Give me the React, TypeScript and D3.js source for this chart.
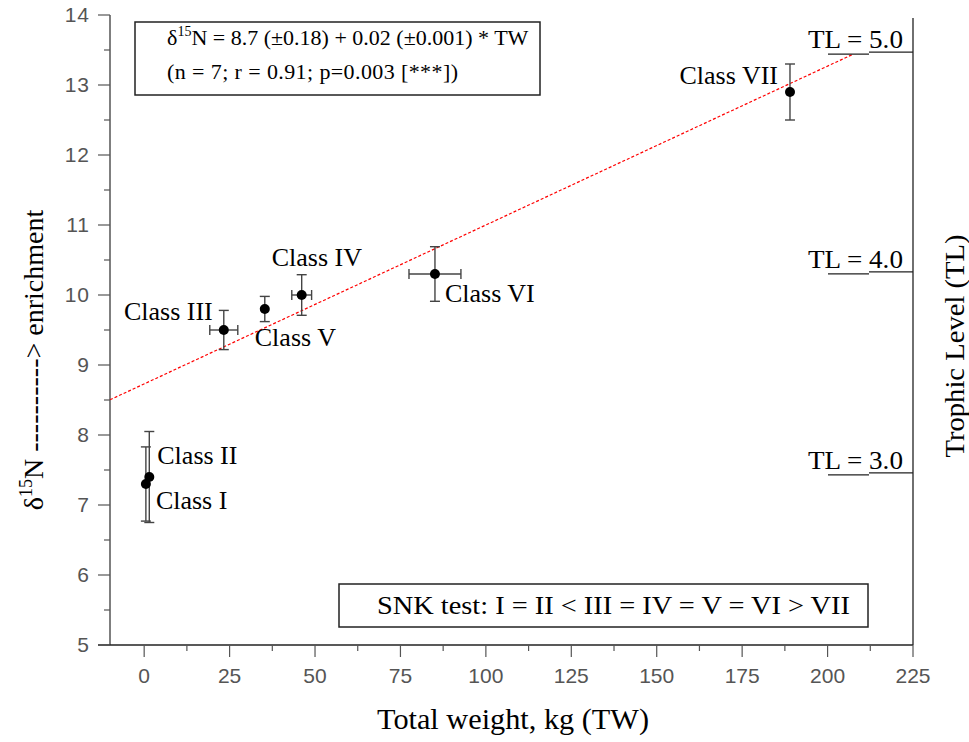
import React from 'react';
import * as d3 from 'd3';

// ---- data ----
const classNames = ['Class I', 'Class II', 'Class III', 'Class IV', 'Class V', 'Class VI', 'Class VII'];
const totalWeight = [0.5, 1.5, 23.3, 46.1, 35.3, 85.1, 189];
const delta15N = [7.3, 7.4, 9.5, 10.0, 9.8, 10.3, 12.9];
const deltaSD = [0.53, 0.65, 0.28, 0.29, 0.18, 0.39, 0.4];
const weightSD = [0, 0, 4.1, 2.9, 0, 7.6, 0];
const xTicks = [0, 25, 50, 75, 100, 125, 150, 175, 200, 225];
const yTicks = [5, 6, 7, 8, 9, 10, 11, 12, 13, 14];
const trophicLevels = ['3.0', '4.0', '5.0'];
const trophicDelta = [7.46, 10.33, 13.47];
const fitIntercept = 8.73;
const fitSlope = 0.0227;
const fitRange = [-10, 207.5];
const equationLine2 = '(n = 7; r = 0.91; p=0.003 [***])';
const snkText = 'SNK test: I = II < III = IV = V = VI > VII';

// ---- layout (label placement relative to point) ----
const labelDx = [10, 8, -11, -30, -10, 10, -12];
const labelDy = [25, -13, -10, -29, 37, 28, -8];
const labelAnchor = ['start', 'start', 'end', 'start', 'start', 'start', 'end'];

const SERIF = "'Liberation Serif', 'Times New Roman', serif";
const NARROW = "'Liberation Sans Narrow', 'Arial Narrow', 'Liberation Sans', sans-serif";

export default function App() {
  const W = 969, H = 742;
  const x = d3.scaleLinear().domain([-10, 225]).range([110, 913]);
  const y = d3.scaleLinear().domain([5, 14]).range([645, 15]);
  const x0 = x(-10), x1 = x(225), y0 = y(5), yTop = y(14);

  const xMinor = d3.range(12.5, 225, 25);
  const yMinor = d3.range(5.5, 14, 1);

  const fitLine = d3.line<number>().x(d => x(d)).y(d => y(fitIntercept + fitSlope * d));
  const stroke = '#444';

  return (
    <svg width={W} height={H} style={{ position: 'absolute', left: 0, top: 0, background: '#fff' }}>
      <rect x={0} y={0} width={W} height={H} fill="#fff" />
      {/* axes */}
      <line x1={x0} y1={yTop} x2={x0} y2={y0} stroke="#555" strokeWidth={1.5} />
      <line x1={x0 - 12} y1={y0} x2={x1} y2={y0} stroke="#222" strokeWidth={1.5} />
      <line x1={x1} y1={18} x2={x1} y2={y0} stroke="#222" strokeWidth={1.3} />
      {/* y ticks */}
      {yTicks.map(t => (
        <g key={'yt' + t}>
          <line x1={x0 - 12} x2={x0} y1={y(t)} y2={y(t)} stroke="#555" strokeWidth={1.2} />
          <text x={x0 - 20} y={y(t)} dy="0.35em" textAnchor="end" fontFamily={NARROW} fontSize={21} fill="#555" letterSpacing={1}>{t}</text>
        </g>
      ))}
      {yMinor.map(t => (
        <line key={'ym' + t} x1={x0 - 6} x2={x0} y1={y(t)} y2={y(t)} stroke="#555" strokeWidth={1.2} />
      ))}
      {/* x ticks */}
      {xTicks.map(t => (
        <g key={'xt' + t}>
          <line x1={x(t)} x2={x(t)} y1={y0} y2={y0 + 12} stroke="#555" strokeWidth={1.2} />
          <text x={x(t)} y={y0 + 38} textAnchor="middle" fontFamily={NARROW} fontSize={21} fill="#555">{t}</text>
        </g>
      ))}
      {xMinor.map(t => (
        <line key={'xm' + t} x1={x(t)} x2={x(t)} y1={y0} y2={y0 + 6} stroke="#555" strokeWidth={1.2} />
      ))}
      {/* fit line */}
      <path d={fitLine(fitRange) || ''} fill="none" stroke="#ff0000" strokeWidth={1.2} strokeDasharray="3 2" />
      {/* error bars */}
      {classNames.map((c, i) => {
        const px = x(totalWeight[i]), py = y(delta15N[i]);
        const yt = y(delta15N[i] + deltaSD[i]), yb = y(delta15N[i] - deltaSD[i]);
        const xl = x(totalWeight[i] - weightSD[i]), xr = x(totalWeight[i] + weightSD[i]);
        return (
          <g key={'eb' + i} stroke={stroke} strokeWidth={1.4}>
            <line x1={px} x2={px} y1={yt} y2={yb} />
            <line x1={px - 5} x2={px + 5} y1={yt} y2={yt} />
            <line x1={px - 5} x2={px + 5} y1={yb} y2={yb} />
            {weightSD[i] > 0 && (
              <g>
                <line x1={xl} x2={xr} y1={py} y2={py} />
                <line x1={xl} x2={xl} y1={py - 5} y2={py + 5} />
                <line x1={xr} x2={xr} y1={py - 5} y2={py + 5} />
              </g>
            )}
          </g>
        );
      })}
      {classNames.map((c, i) => (
        <circle key={'pt' + i} cx={x(totalWeight[i])} cy={y(delta15N[i])} r={5} fill="#000" />
      ))}
      {classNames.map((c, i) => (
        <text key={'lb' + i} x={x(totalWeight[i]) + labelDx[i]} y={y(delta15N[i]) + labelDy[i]}
          textAnchor={labelAnchor[i] as any} fontFamily={SERIF} fontSize={26} fill="#000">{c}</text>
      ))}
      {/* TL markers */}
      {trophicLevels.map((t, i) => {
        const ty = y(trophicDelta[i]);
        return (
          <g key={'tl' + i}>
            <text x={808} y={ty - 4} fontFamily={SERIF} fontSize={26} fill="#000" textLength={95} lengthAdjust="spacingAndGlyphs">TL = {t}</text>
            <line x1={828} x2={869} y1={ty + 2} y2={ty + 2} stroke="#222" strokeWidth={1.2} />
            <line x1={869} x2={x1} y1={ty} y2={ty} stroke="#222" strokeWidth={1.2} />
          </g>
        );
      })}
      {/* equation box */}
      <rect x={135} y={22} width={405} height={73} fill="#fff" stroke="#222" strokeWidth={1.5} />
      <text x={167} y={45} fontFamily={SERIF} fontSize={22} fill="#000">
        δ<tspan fontSize={14} dy={-9}>15</tspan><tspan dy={9}>N = 8.7 (±0.18) + 0.02 (±0.001) * TW</tspan>
      </text>
      <text x={167} y={79} fontFamily={SERIF} fontSize={22} fill="#000" letterSpacing={0.4}>{equationLine2}</text>
      {/* SNK box */}
      <rect x={339} y={584} width={529} height={43} fill="#fff" stroke="#222" strokeWidth={1.5} />
      <text x={377} y={614} fontFamily={SERIF} fontSize={26} fill="#000" textLength={473} lengthAdjust="spacingAndGlyphs">{snkText}</text>
      {/* axis titles */}
      <text x={377} y={729} fontFamily={SERIF} fontSize={30} fill="#000" textLength={272} lengthAdjust="spacingAndGlyphs">Total weight, kg (TW)</text>
      <text transform="translate(43,360) rotate(-90)" textAnchor="middle" fontFamily={SERIF} fontSize={28} fill="#000">
        δ<tspan fontSize={18} dy={-11}>15</tspan><tspan dy={11}>N ----------&gt; enrichment</tspan>
      </text>
      <text transform="translate(964,346) rotate(-90)" textAnchor="middle" fontFamily={SERIF} fontSize={28} fill="#000" textLength={223} lengthAdjust="spacingAndGlyphs">Trophic Level (TL)</text>
    </svg>
  );
}
